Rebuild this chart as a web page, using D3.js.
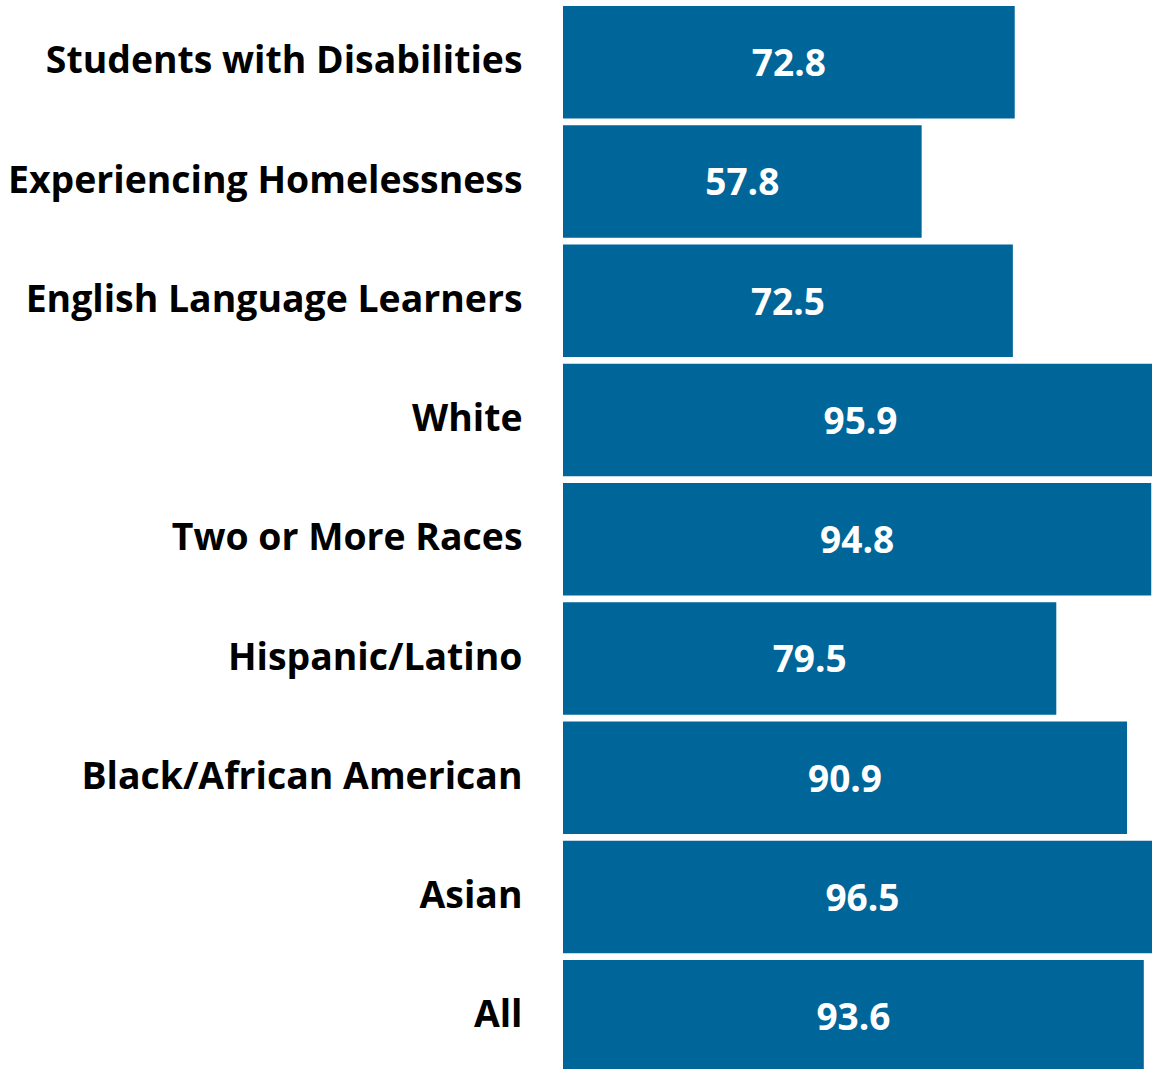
<!DOCTYPE html>
<html>
<head>
<meta charset="utf-8">
<script src="https://cdn.jsdelivr.net/npm/d3@7"></script>
<style>
  html, body { margin: 0; padding: 0; background: #fff; overflow: hidden; }
  svg { display: block; }
</style>
</head>
<body>
<script>
const categories = [
  "Students with Disabilities",
  "Experiencing Homelessness",
  "English Language Learners",
  "White",
  "Two or More Races",
  "Hispanic/Latino",
  "Black/African American",
  "Asian",
  "All"
];
const values = [72.8, 57.8, 72.5, 95.9, 94.8, 79.5, 90.9, 96.5, 93.6];

const W = 1152, H = 1069;
const svg = d3.select("body").append("svg").attr("width", W).attr("height", H);

const x = d3.scaleLinear().domain([0, 100]).range([563, 563 + 620.5]);
const y = d3.scaleBand().domain(categories).range([6, 1072.5]).paddingInner(0.0566).paddingOuter(0);

const data = categories.map((c, i) => ({ c, v: values[i] }));

svg.selectAll("rect.bar").data(data).join("rect")
  .attr("class", "bar")
  .attr("x", x(0))
  .attr("y", d => y(d.c))
  .attr("width", d => x(d.v) - x(0))
  .attr("height", y.bandwidth())
  .attr("fill", "#006699");

svg.selectAll("text.val").data(data).join("text")
  .attr("class", "val")
  .attr("x", d => (x(0) + x(d.v)) / 2)
  .attr("y", d => y(d.c) + y.bandwidth() / 2 + 1)
  .attr("dy", "0.35em")
  .attr("text-anchor", "middle")
  .attr("fill", "#fff")
  .style("font-family", "'Open Sans', sans-serif")
  .style("font-weight", 700)
  .style("font-size", "37px")
  .text(d => d.v.toFixed(1));

svg.selectAll("text.cat").data(data).join("text")
  .attr("class", "cat")
  .attr("x", 522.5)
  .attr("y", d => y(d.c) + y.bandwidth() / 2 - 2)
  .attr("dy", "0.35em")
  .attr("text-anchor", "end")
  .attr("fill", "#000")
  .style("font-family", "'Open Sans', sans-serif")
  .style("font-weight", 700)
  .style("font-size", "37.4px")
  .text(d => d.c);
</script>
</body>
</html>
